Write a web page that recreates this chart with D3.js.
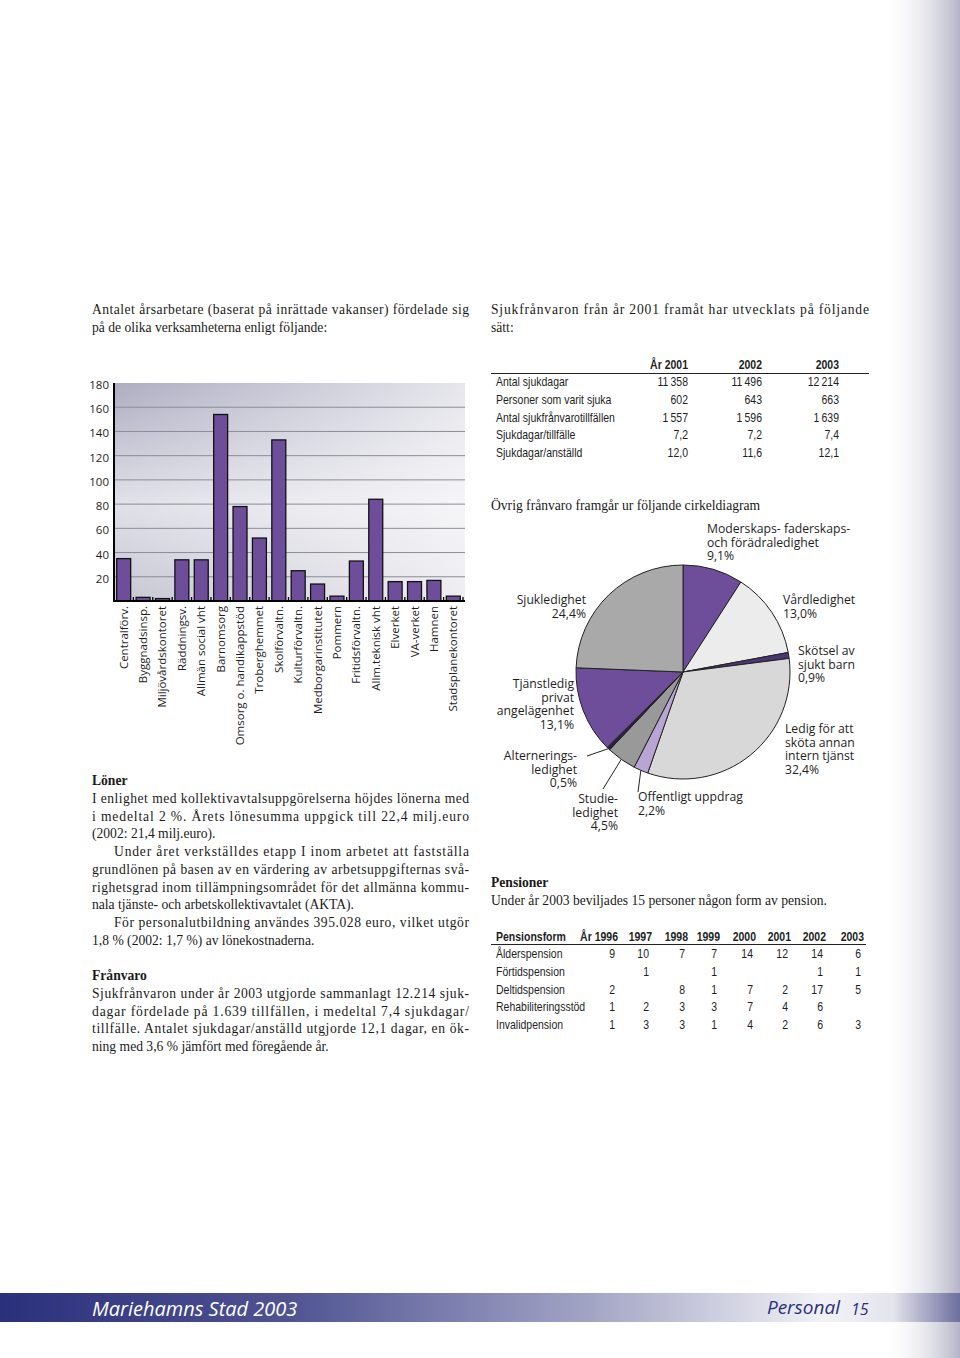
<!DOCTYPE html>
<html>
<head>
<meta charset="utf-8">
<script src="https://cdn.jsdelivr.net/npm/d3@7"></script>
<style>
  html, body { margin: 0; padding: 0; background: #fff; }
  svg { display: block; }
  .serif { font-family: "Liberation Serif", "DejaVu Serif", serif; fill: #1a1a1a; }
  .sans { font-family: "Open Sans", "Noto Sans", sans-serif; fill: #1e1e1e; }
  .narrow { font-family: "Liberation Sans", sans-serif; fill: #1e1e1e; }
</style>
</head>
<body>
<div class="page"></div>
<script>
// årsarbetare per verksamhet
const units = ['Centralförv.', 'Byggnadsinsp.', 'Miljövårdskontoret', 'Räddningsv.', 'Allmän social vht',
  'Barnomsorg', 'Omsorg o. handikappstöd', 'Troberghemmet', 'Skolförvaltn.', 'Kulturförvaltn.',
  'Medborgarinstitutet', 'Pommern', 'Fritidsförvaltn.', 'Allm.teknisk vht', 'Elverket', 'VA-verket',
  'Hamnen', 'Stadsplanekontoret']
const unitValues = [35, 3, 2, 34, 34, 154, 78, 52, 133, 25, 14, 4, 33, 84, 16, 16, 17, 4]
const yTicks = [20, 40, 60, 80, 100, 120, 140, 160, 180]

// sjukfrånvaro tabell
const sickYears = ['År 2001', '2002', '2003']
const sickRows = ['Antal sjukdagar', 'Personer som varit sjuka', 'Antal sjukfrånvarotillfällen', 'Sjukdagar/tillfälle', 'Sjukdagar/anställd']
const sick2001 = [11358, 602, 1557, 7.2, 12.0]
const sick2002 = [11496, 643, 1596, 7.2, 11.6]
const sick2003 = [12214, 663, 1639, 7.4, 12.1]

// övrig frånvaro (cirkeldiagram), medurs från kl 12
const absLabels = [
  ['Moderskaps- faderskaps-', 'och förädraledighet'], ['Vårdledighet'], ['Skötsel av', 'sjukt barn'],
  ['Ledig för att', 'sköta annan', 'intern tjänst'], ['Offentligt uppdrag'], ['Studie-', 'ledighet'],
  ['Alternerings-', 'ledighet'], ['Tjänstledig', 'privat', 'angelägenhet'], ['Sjukledighet']]
const absValues = [9.1, 13.0, 0.9, 32.4, 2.2, 4.5, 0.5, 13.1, 24.4]
const absColors = ['#6e4e9a', '#ececec', '#4b3572', '#d8d8d8', '#b8a5d3', '#999999', '#2d1f44', '#6e4e9a', '#a9a9a9']

// pensioner
const penYears = [1996, 1997, 1998, 1999, 2000, 2001, 2002, 2003]
const penForms = ['Ålderspension', 'Förtidspension', 'Deltidspension', 'Rehabiliteringsstöd', 'Invalidpension']
const penAlder = [9, 10, 7, 7, 14, 12, 14, 6]
const penFortid = [null, 1, null, 1, null, null, 1, 1]
const penDeltid = [2, null, 8, 1, 7, 2, 17, 5]
const penRehab = [1, 2, 3, 3, 7, 4, 6, null]
const penInvalid = [1, 3, 3, 1, 4, 2, 6, 3]

const W = 960, H = 1358
const svg = d3.select('.page').append('svg').attr('width', W).attr('height', H)
const defs = svg.append('defs')

// page edge shading
const edge = defs.append('linearGradient').attr('id', 'edge').attr('x1', 0).attr('x2', 1).attr('y1', 0).attr('y2', 0)
edge.append('stop').attr('offset', 0).attr('stop-color', '#fff').attr('stop-opacity', 0)
edge.append('stop').attr('offset', 1).attr('stop-color', '#b4b4c8')
svg.append('rect').attr('x', 880).attr('y', 0).attr('width', 80).attr('height', H).attr('fill', 'url(#edge)')

// ---- body text ----
function textLines(lines, x0, x1, y, lh) {
  lines.forEach((l, i) => {
    const t = svg.append('text').attr('class', 'serif').attr('font-size', 13.6)
      .attr('x', x0 + (l.indent ? 22 : 0)).attr('y', y + i * lh).text(l.t)
    if (l.bold) t.attr('font-weight', 'bold')
    if (l.j) t.attr('textLength', x1 - x0 - (l.indent ? 22 : 0)).attr('lengthAdjust', 'spacing')
  })
}
textLines([
  { t: 'Antalet årsarbetare (baserat på inrättade vakanser) fördelade sig', j: 1 },
  { t: 'på de olika verksamheterna enligt följande:' }], 92, 469, 314, 17.6)
textLines([
  { t: 'Sjukfrånvaron från år 2001 framåt har utvecklats på följande', j: 1 },
  { t: 'sätt:' }], 491, 869, 314, 17.6)
textLines([
  { t: 'Löner', bold: 1 },
  { t: 'I enlighet med kollektivavtalsuppgörelserna höjdes lönerna med', j: 1 },
  { t: 'i medeltal 2 %. Årets lönesumma uppgick till 22,4 milj.euro', j: 1 },
  { t: '(2002: 21,4 milj.euro).' },
  { t: 'Under året verkställdes etapp I inom arbetet att fastställa', j: 1, indent: 1 },
  { t: 'grundlönen på basen av en värdering av arbetsuppgifternas svå-', j: 1 },
  { t: 'righetsgrad inom tillämpningsområdet för det allmänna kommu-', j: 1 },
  { t: 'nala tjänste- och arbetskollektivavtalet (AKTA).' },
  { t: 'För personalutbildning användes 395.028 euro, vilket utgör', j: 1, indent: 1 },
  { t: '1,8 % (2002: 1,7 %) av lönekostnaderna.' }], 92, 469, 785, 17.75)
textLines([
  { t: 'Frånvaro', bold: 1 },
  { t: 'Sjukfrånvaron under år 2003 utgjorde sammanlagt 12.214 sjuk-', j: 1 },
  { t: 'dagar fördelade på 1.639 tillfällen, i medeltal 7,4  sjukdagar/', j: 1 },
  { t: 'tillfälle. Antalet sjukdagar/anställd utgjorde 12,1 dagar, en ök-', j: 1 },
  { t: 'ning med 3,6 % jämfört med föregående år.' }], 92, 469, 980, 17.75)
textLines([{ t: 'Övrig frånvaro framgår ur följande cirkeldiagram' }], 491, 869, 510, 17.6)
textLines([
  { t: 'Pensioner', bold: 1 },
  { t: 'Under år 2003 beviljades 15 personer någon form av pension.' }], 491, 869, 887, 17.6)

// ---- bar chart ----
const bx0 = 114, bx1 = 463, by0 = 601, by1 = 383
const x = d3.scaleBand().domain(units).range([bx0, bx1]).paddingInner(0.28).paddingOuter(0.14)
const y = d3.scaleLinear().domain([0, 180]).range([by0, by1])

const bg = defs.append('linearGradient').attr('id', 'plotbg').attr('x1', 0).attr('x2', 0).attr('y1', 0).attr('y2', 1)
bg.append('stop').attr('offset', 0).attr('stop-color', '#adadc2')
bg.append('stop').attr('offset', 0.55).attr('stop-color', '#e0e0e8')
bg.append('stop').attr('offset', 1).attr('stop-color', '#c6c6d2')
const bgw = defs.append('linearGradient').attr('id', 'plotw').attr('x1', 0).attr('x2', 1).attr('y1', 0).attr('y2', 0)
bgw.append('stop').attr('offset', 0).attr('stop-color', '#fff').attr('stop-opacity', 0)
bgw.append('stop').attr('offset', 1).attr('stop-color', '#fff').attr('stop-opacity', 0.7)

const chart = svg.append('g')
chart.append('rect').attr('x', bx0).attr('y', by1).attr('width', bx1 - bx0 + 2).attr('height', by0 - by1).attr('fill', 'url(#plotbg)')
chart.append('rect').attr('x', bx0).attr('y', by1).attr('width', bx1 - bx0 + 2).attr('height', by0 - by1).attr('fill', 'url(#plotw)')

chart.selectAll('line.grid').data(yTicks.filter(v => v < 180)).enter().append('line')
  .attr('class', 'grid')
  .attr('x1', bx0).attr('x2', bx1 + 2)
  .attr('y1', d => y(d)).attr('y2', d => y(d))
  .attr('stroke', '#8c8c98').attr('stroke-width', 1)

chart.selectAll('text.yl').data(yTicks).enter().append('text')
  .attr('class', 'sans yl').attr('font-size', 11.5)
  .attr('x', 109).attr('y', d => y(d) + 6).attr('text-anchor', 'end')
  .text(d => d)

chart.selectAll('rect.bar').data(unitValues).enter().append('rect')
  .attr('class', 'bar')
  .attr('x', (d, i) => x(units[i]))
  .attr('y', d => y(d))
  .attr('width', x.bandwidth())
  .attr('height', d => by0 - y(d))
  .attr('fill', '#6e4e9a').attr('stroke', '#111').attr('stroke-width', 1.3)

// axis lines
chart.append('line').attr('x1', bx0).attr('x2', bx0).attr('y1', by1).attr('y2', by0 + 1).attr('stroke', '#000').attr('stroke-width', 2)
chart.append('line').attr('x1', bx0).attr('x2', bx1 + 2).attr('y1', by0).attr('y2', by0).attr('stroke', '#000').attr('stroke-width', 1.8)
chart.selectAll('line.tk').data(d3.range(units.length + 1)).enter().append('line')
  .attr('class', 'tk')
  .attr('x1', i => bx0 + i * x.step()).attr('x2', i => bx0 + i * x.step())
  .attr('y1', by0).attr('y2', by0 - 4)
  .attr('stroke', '#000').attr('stroke-width', 1.3)

chart.selectAll('text.xl').data(units).enter().append('text')
  .attr('class', 'sans xl').attr('font-size', 11.5)
  .attr('transform', d => `translate(${x(d) + x.bandwidth() / 2 + 4},606) rotate(-90)`)
  .attr('text-anchor', 'end')
  .text(d => d)

// condensed table text (no narrow font installed, so squeeze it)
function ntext(g, tx, ty, txt, anchor, bold) {
  const t = g.append('text').attr('class', 'narrow').attr('font-size', 12.5)
    .attr('transform', `translate(${tx},${ty}) scale(0.84,1)`)
    .attr('text-anchor', anchor || 'start').text(txt)
  if (bold) t.attr('font-weight', 'bold')
  return t
}

// ---- sick table ----
const loc = d3.formatLocale({ decimal: ',', thousands: '\u2009', grouping: [3], currency: ['', ''] })
const fmtInt = loc.format(',d'), fmtDec = loc.format(',.1f')
const fmt = v => Number.isInteger(v) && v > 20 ? fmtInt(v) : fmtDec(v)
const colX = [688, 762, 839]
const tb = svg.append('g')
sickYears.forEach((d, i) => ntext(tb, colX[i], 369, d, 'end', 1))
tb.append('line').attr('x1', 491).attr('x2', 869).attr('y1', 373.5).attr('y2', 373.5).attr('stroke', '#222').attr('stroke-width', 1)
const sickCols = [sick2001, sick2002, sick2003]
sickRows.forEach((r, i) => {
  const yy = 386 + i * 17.8
  ntext(tb, 496, yy, r)
  sickCols.forEach((c, j) => ntext(tb, colX[j], yy, fmt(c[i]), 'end'))
})

// ---- pie ----
const cx = 683, cy = 672, R = 107
const pie = d3.pie().sort(null).value(d => d)
const arcs = pie(absValues)
const arc = d3.arc().innerRadius(0).outerRadius(R)
const pg = svg.append('g').attr('transform', `translate(${cx},${cy})`)
pg.selectAll('path').data(arcs).enter().append('path')
  .attr('d', arc)
  .attr('fill', (d, i) => absColors[i])
  .attr('stroke', '#222').attr('stroke-width', 1)

// label layout: [x, y of first line, anchor, leader start]
const labelPos = [
  [707, 533, 'start'], [783, 604, 'start'], [798, 655, 'start'], [785, 733, 'start'],
  [638, 801, 'start', [638, 792]], [618, 803, 'end', [603, 789]], [577, 760, 'end', [587, 756]],
  [574, 688, 'end'], [586, 604, 'end']]
const pctFmt = loc.format('.1f')
arcs.forEach((a, i) => {
  const p = labelPos[i]
  const lines = absLabels[i].concat([pctFmt(absValues[i]) + '%'])
  const t = svg.append('text').attr('class', 'sans').attr('font-size', 12.2)
    .attr('x', p[0]).attr('y', p[1]).attr('text-anchor', p[2])
  lines.forEach((l, k) => t.append('tspan').attr('x', p[0]).attr('dy', k ? 13.7 : 0).text(l))
  if (p[3]) {
    const mid = (a.startAngle + a.endAngle) / 2
    svg.append('line')
      .attr('x1', p[3][0]).attr('y1', p[3][1])
      .attr('x2', cx + R * Math.sin(mid)).attr('y2', cy - R * Math.cos(mid))
      .attr('stroke', '#222').attr('stroke-width', 1)
  }
})

// ---- pension table ----
const penX = [618, 652, 688, 720, 756, 791, 826, 864]
const pt = svg.append('g')
ntext(pt, 496, 941, 'Pensionsform', 'start', 1)
penYears.forEach((d, i) => ntext(pt, penX[i], 941, i ? d : 'År ' + d, 'end', 1))
pt.append('line').attr('x1', 491).attr('x2', 866).attr('y1', 944.5).attr('y2', 944.5).attr('stroke', '#222').attr('stroke-width', 1)
const penRows = [penAlder, penFortid, penDeltid, penRehab, penInvalid]
penForms.forEach((f, i) => {
  const yy = 958 + i * 17.8
  ntext(pt, 496, yy, f)
  penRows[i].forEach((v, j) => {
    if (v == null) return
    ntext(pt, penX[j] - 3, yy, v, 'end')
  })
})

// ---- footer ----
const fg = defs.append('linearGradient').attr('id', 'foot').attr('x1', 0).attr('x2', 1).attr('y1', 0).attr('y2', 0)
fg.append('stop').attr('offset', 0).attr('stop-color', '#2b307c')
fg.append('stop').attr('offset', 0.3).attr('stop-color', '#4f5392')
fg.append('stop').attr('offset', 0.62).attr('stop-color', '#a4a6c6')
fg.append('stop').attr('offset', 0.86).attr('stop-color', '#f2f2f6')
fg.append('stop').attr('offset', 0.93).attr('stop-color', '#e4e4ec')
fg.append('stop').attr('offset', 1).attr('stop-color', '#6c6e9e')
svg.append('rect').attr('x', 0).attr('y', 1293).attr('width', W).attr('height', 29).attr('fill', 'url(#foot)')
svg.append('text').attr('x', 92).attr('y', 1316).attr('font-size', 20).attr('font-style', 'italic')
  .attr('font-family', '"Open Sans", sans-serif').attr('fill', '#fff').text('Mariehamns Stad 2003')
svg.append('text').attr('x', 840).attr('y', 1314).attr('font-size', 19).attr('font-style', 'italic')
  .attr('font-family', '"Open Sans", sans-serif').attr('fill', '#2b307c').attr('text-anchor', 'end').text('Personal')
svg.append('text').attr('x', 851).attr('y', 1315).attr('font-size', 16).attr('font-style', 'italic')
  .attr('font-family', '"Open Sans", sans-serif').attr('fill', '#2b307c').text('15')
</script>
</body>
</html>
